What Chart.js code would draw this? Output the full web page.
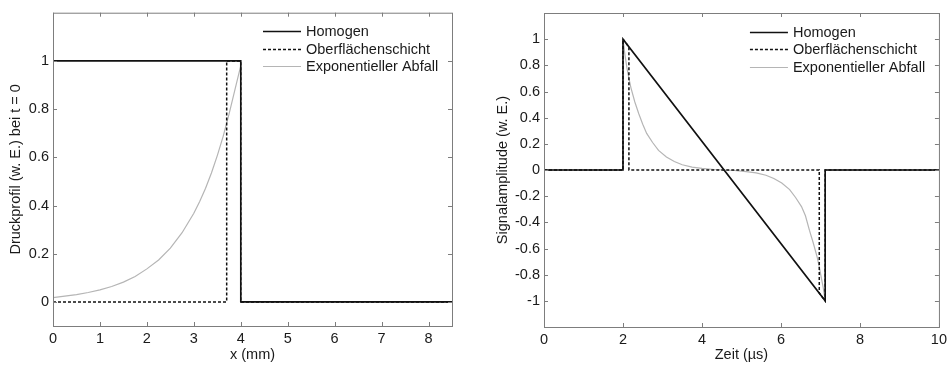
<!DOCTYPE html>
<html>
<head>
<meta charset="utf-8">
<script src="https://cdn.jsdelivr.net/npm/chart.js@4.4.0/dist/chart.umd.min.js"></script>
<style>
    html, body { margin: 0; padding: 0; background: #fff; }
    #wrap { position: relative; width: 951px; height: 365px; }
    canvas { position: absolute; top: 0; }
    #profilChart { left: 0; }
    #signalChart { left: 475px; }
</style>
</head>
<body>
<div id="wrap">
    <canvas id="profilChart" width="475" height="365"></canvas>
    <canvas id="signalChart" width="476" height="365"></canvas>
</div>
<script>
const seriesNames = ['Homogen', 'Oberflächenschicht', 'Exponentieller Abfall'];

// Druckprofil bei t = 0, x in mm
const profilHomogenX = [0, 4, 4, 8.5];
const profilHomogenY = [1, 1, 0, 0];
const profilSchichtX = [0, 3.7, 3.7, 4, 4, 8.5];
const profilSchichtY = [0, 0, 1, 1, 0, 0];
const profilExpX = [0, 0.25, 0.5, 0.75, 1, 1.25, 1.5, 1.75, 2, 2.25, 2.5, 2.75, 3, 3.125, 3.25, 3.375, 3.5, 3.625, 3.75, 3.875, 4, 4, 8.5];
const profilExpY = [0.018, 0.024, 0.030, 0.039, 0.050, 0.064, 0.082, 0.105, 0.137, 0.174, 0.223, 0.287, 0.368, 0.417, 0.472, 0.535, 0.607, 0.687, 0.779, 0.88, 0.98, 0, 0];
const profilXTicks = [0, 1, 2, 3, 4, 5, 6, 7, 8];
const profilYTicks = [0, 0.2, 0.4, 0.6, 0.8, 1];

// Signal, Zeit in µs
const signalHomogenX = [0, 2, 2, 7.12, 7.12, 10];
const signalHomogenY = [0, 0, 1, -1, 0, 0];
const signalSchichtX = [0, 2, 2, 2.15, 2.15, 6.97, 6.97, 7.12, 7.12, 10];
const signalSchichtY = [0, 0, 1, 0.94, 0, 0, -0.94, -1, 0, 0];
const signalExpX = [0, 2, 2, 2.05, 2.1, 2.15, 2.2, 2.3, 2.4, 2.5, 2.6, 2.75, 2.9, 3.1, 3.3, 3.5, 3.75, 4.0, 4.3, 4.56,
    4.82, 5.12, 5.37, 5.62, 5.82, 6.02, 6.22, 6.37, 6.52, 6.62, 6.72, 6.82, 6.92, 6.97, 7.02, 7.07, 7.12, 7.12, 10];
const signalExpY = [0, 0, 1, 0.88, 0.78, 0.70, 0.63, 0.52, 0.43, 0.35, 0.28, 0.21, 0.15, 0.10, 0.065, 0.04, 0.022, 0.012, 0.004, 0,
    -0.004, -0.012, -0.022, -0.04, -0.065, -0.10, -0.15, -0.21, -0.28, -0.35, -0.46, -0.56, -0.67, -0.74, -0.82, -0.9, -1, 0, 0];
const signalXTicks = [0, 2, 4, 6, 8, 10];
const signalYTicks = [-1, -0.8, -0.6, -0.4, -0.2, 0, 0.2, 0.4, 0.6, 0.8, 1];

const FONT = { family: 'Liberation Sans, Arial, sans-serif', size: 14.5 };
const TEXT_COLOR = '#1a1a1a';
const BOX_COLOR = '#7d7d7d';

function toPoints(xs, ys) {
    return xs.map((x, i) => ({ x: x, y: ys[i] }));
}

function makeDatasets(sets) {
    const styles = [
        { borderColor: '#111', borderWidth: 1.6, borderDash: [] },
        { borderColor: '#111', borderWidth: 1.5, borderDash: [3, 2] },
        { borderColor: '#b5b5b5', borderWidth: 1.2, borderDash: [] }
    ];
    return sets.map((pts, i) => ({
        label: seriesNames[i],
        data: pts,
        showLine: true,
        pointRadius: 0,
        tension: 0,
        fill: false,
        ...styles[i]
    }));
}

// box, inward ticks on all four sides, legend in the upper right corner
const boxPlugin = {
    id: 'boxPlugin',
    afterDraw(chart) {
        const { ctx, chartArea: a, scales } = chart;
        const tick = 4;
        ctx.save();
        ctx.strokeStyle = BOX_COLOR;
        ctx.lineWidth = 1;
        ctx.strokeRect(a.left + 0.5, a.top + 0.5, a.right - a.left, a.bottom - a.top);
        ctx.beginPath();
        scales.x.ticks.forEach(t => {
            const px = Math.round(scales.x.getPixelForValue(t.value)) + 0.5;
            ctx.moveTo(px, a.bottom); ctx.lineTo(px, a.bottom - tick);
            ctx.moveTo(px, a.top); ctx.lineTo(px, a.top + tick);
        });
        scales.y.ticks.forEach(t => {
            const py = Math.round(scales.y.getPixelForValue(t.value)) + 0.5;
            ctx.moveTo(a.left, py); ctx.lineTo(a.left + tick, py);
            ctx.moveTo(a.right, py); ctx.lineTo(a.right - tick, py);
        });
        ctx.stroke();

        ctx.font = FONT.size + 'px ' + FONT.family;
        ctx.textBaseline = 'middle';
        ctx.textAlign = 'left';
        chart.data.datasets.forEach((ds, i) => {
            const ly = Math.round(a.top + 18.5 + i * 17.5) + 0.5;
            ctx.beginPath();
            ctx.strokeStyle = ds.borderColor;
            ctx.lineWidth = ds.borderWidth;
            ctx.setLineDash(ds.borderDash || []);
            ctx.moveTo(a.right - 189, ly);
            ctx.lineTo(a.right - 151, ly);
            ctx.stroke();
            ctx.setLineDash([]);
            ctx.fillStyle = TEXT_COLOR;
            ctx.fillText(ds.label, a.right - 146, ly);
        });
        ctx.restore();
    }
};

function makeChart(canvasId, cfg) {
    const ctx = document.getElementById(canvasId).getContext('2d');
    return new Chart(ctx, {
        type: 'scatter',
        data: { datasets: makeDatasets(cfg.sets) },
        options: {
            responsive: false,
            animation: false,
            devicePixelRatio: 1,
            layout: { padding: cfg.padding },
            plugins: { legend: { display: false }, tooltip: { enabled: false } },
            scales: {
                x: {
                    type: 'linear',
                    min: cfg.xMin, max: cfg.xMax,
                    grid: { display: false, drawTicks: false },
                    border: { display: false },
                    afterBuildTicks: s => { s.ticks = cfg.xTicks.map(v => ({ value: v })); },
                    afterFit: s => { s.height = cfg.xHeight; },
                    ticks: {
                        autoSkip: false, maxRotation: 0, padding: 4,
                        color: TEXT_COLOR, font: FONT,
                        callback: v => String(v)
                    },
                    title: {
                        display: true, text: cfg.xTitle, color: TEXT_COLOR, font: FONT,
                        padding: { top: 0, bottom: 1.3 }
                    }
                },
                y: {
                    type: 'linear',
                    min: cfg.yMin, max: cfg.yMax,
                    grid: { display: false, drawTicks: false },
                    border: { display: false },
                    afterBuildTicks: s => { s.ticks = cfg.yTicks.map(v => ({ value: v })); },
                    afterFit: s => { s.width = cfg.yWidth; },
                    ticks: {
                        autoSkip: false, padding: 4,
                        color: TEXT_COLOR, font: FONT,
                        callback: v => String(v)
                    },
                    title: {
                        display: true, text: cfg.yTitle, color: TEXT_COLOR, font: FONT,
                        padding: { top: cfg.yTitlePad, bottom: 0 }
                    }
                }
            }
        },
        plugins: [boxPlugin]
    });
}

makeChart('profilChart', {
    sets: [
        toPoints(profilHomogenX, profilHomogenY),
        toPoints(profilSchichtX, profilSchichtY),
        toPoints(profilExpX, profilExpY)
    ],
    xMin: 0, xMax: 8.5, yMin: -0.1, yMax: 1.2,
    xTicks: profilXTicks, yTicks: profilYTicks,
    xTitle: 'x (mm)', yTitle: 'Druckprofil (w. E.) bei t = 0',
    padding: { top: 11, right: 23, left: 0, bottom: 0 },
    xHeight: 39, yWidth: 53, yTitlePad: 7.3
});

makeChart('signalChart', {
    sets: [
        toPoints(signalHomogenX, signalHomogenY),
        toPoints(signalSchichtX, signalSchichtY),
        toPoints(signalExpX, signalExpY)
    ],
    xMin: 0, xMax: 10, yMin: -1.2, yMax: 1.2,
    xTicks: signalXTicks, yTicks: signalYTicks,
    xTitle: 'Zeit (µs)', yTitle: 'Signalamplitude (w. E.)',
    padding: { top: 13, right: 8, left: 0, bottom: 0 },
    xHeight: 38, yWidth: 69, yTitlePad: 19.3
});
</script>
</body>
</html>
